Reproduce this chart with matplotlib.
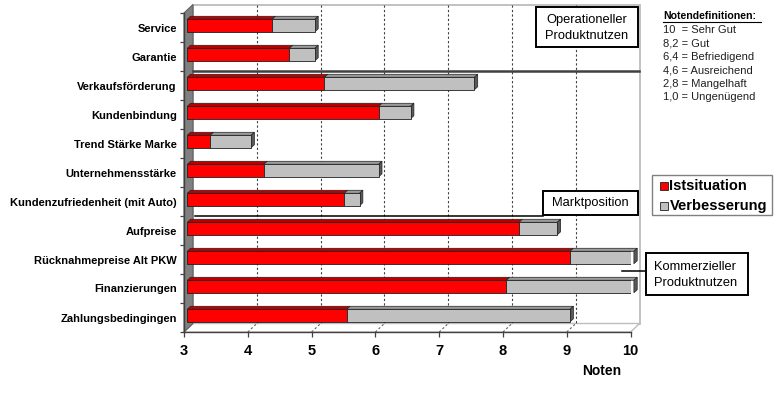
import matplotlib
matplotlib.use("Agg")
import matplotlib.pyplot as plt
from matplotlib.patches import Polygon, Rectangle
from matplotlib.lines import Line2D
from matplotlib.transforms import ScaledTranslation

plt.rcParams['font.family'] = ['Liberation Sans', 'DejaVu Sans']

# ---------------- data ----------------
categories = ["Service", "Garantie", "Verkaufsförderung", "Kundenbindung",
              "Trend Stärke Marke", "Unternehmensstärke",
              "Kundenzufriedenheit (mit Auto)", "Aufpreise",
              "Rücknahmepreise Alt PKW", "Finanzierungen", "Zahlungsbedingingen"]
istsituation = [4.33, 4.6, 5.15, 6.0, 3.36, 4.2, 5.46, 8.2, 9.0, 8.0, 5.5]
verbesserung = [0.67, 0.4, 2.35, 0.5, 0.64, 1.8, 0.24, 0.6, 1.0, 2.0, 3.5]
x_ticks = [3, 4, 5, 6, 7, 8, 9, 10]
x_label = "Noten"
series_labels = ["Istsituation", "Verbesserung"]
noten_title = "Notendefinitionen:"
noten_lines = ["10  = Sehr Gut", "8,2 = Gut", "6,4 = Befriedigend",
               "4,6 = Ausreichend", "2,8 = Mangelhaft", "1,0 = Ungenügend"]
box_operationell = ["Operationeller", "Produktnutzen"]
box_markt = "Marktposition"
box_kommerziell = ["Kommerzieller", "Produktnutzen"]

# ---------------- figure ----------------
W, H = 780, 398
DPI = 100
fig = plt.figure(figsize=(W / DPI, H / DPI), dpi=DPI)
fig.patch.set_facecolor("white")

X0, X1 = 184, 630.6   # front plane x pixels
Y0, Y1 = 13, 332      # front plane top / bottom pixels
ax = fig.add_axes([X0 / W, (H - Y1) / H, (X1 - X0) / W, (Y1 - Y0) / H])
n = len(categories)
xmin, xmax = x_ticks[0], x_ticks[-1]
ax.set_xlim(xmin, xmax)
ax.set_ylim(n - 0.5, -0.5)
ax.patch.set_visible(False)
for s in ax.spines.values():
    s.set_visible(False)

# pixel -> data conversions from the axes scale
ux = ax.transData.transform((xmin + 1, 0))[0] - ax.transData.transform((xmin, 0))[0]
uy = ax.transData.transform((0, 0))[1] - ax.transData.transform((0, 1))[1]
def ddx(p):
    return p / ux
def ddy(p):
    return p / uy   # positive = upward on screen -> subtract from y

ytop, ybot = -0.5, n - 0.5
DX, DY = 9.0, 8.5   # depth of the 3D box in pixels

# back wall
back = Polygon([(xmin + ddx(DX), ytop - ddy(DY)), (xmax + ddx(DX), ytop - ddy(DY)),
                (xmax + ddx(DX), ybot - ddy(DY)), (xmin + ddx(DX), ybot - ddy(DY))],
               closed=True, facecolor="white", edgecolor="#BDBDBD", lw=1.3,
               clip_on=False, zorder=0)
ax.add_patch(back)
# floor
floor = Polygon([(xmin, ybot), (xmax, ybot), (xmax + ddx(DX), ybot - ddy(DY)),
                 (xmin + ddx(DX), ybot - ddy(DY))], closed=True,
                facecolor="white", edgecolor="#BDBDBD", lw=1.0, clip_on=False, zorder=0.5)
ax.add_patch(floor)
# gridlines on back wall and floor
for v in x_ticks[1:-1]:
    ax.add_line(Line2D([v + ddx(DX), v + ddx(DX)], [ytop - ddy(DY), ybot - ddy(DY)],
                       color="#404040", lw=0.8, dashes=(2, 2), clip_on=False, zorder=1))
    ax.add_line(Line2D([v, v + ddx(DX)], [ybot, ybot - ddy(DY)],
                       color="#606060", lw=0.8, dashes=(2, 2), clip_on=False, zorder=1))
# side wall
side = Polygon([(xmin, ytop), (xmin + ddx(DX), ytop - ddy(DY)),
                (xmin + ddx(DX), ybot - ddy(DY)), (xmin, ybot)], closed=True,
               facecolor="#808080", edgecolor="#606060", lw=0.8, clip_on=False, zorder=2)
ax.add_patch(side)
# front axis lines
ax.add_line(Line2D([xmin, xmax], [ybot, ybot], color="#404040", lw=1.0, clip_on=False, zorder=3))
ax.add_line(Line2D([xmin, xmin], [ytop, ybot], color="#404040", lw=1.0, clip_on=False, zorder=3))

# ---------------- bars ----------------
FX, FY = 3.3, 2.0      # front face offset in pixels
BX, BY = 3.3, 3.0      # bar depth in pixels
bar_h = 0.43
off = ax.transData + ScaledTranslation(FX / DPI, FY / DPI, fig.dpi_scale_trans)
ypos = list(range(n))
left_ist = [xmin] * n
b1 = ax.barh(ypos, [v - xmin for v in istsituation], left=left_ist, height=bar_h,
             color="#FF0000", edgecolor="#202020", lw=0.6, transform=off, zorder=5,
             label=series_labels[0])
b2 = ax.barh(ypos, verbesserung, left=istsituation, height=bar_h,
             color="#C0C0C0", edgecolor="#202020", lw=0.6, transform=off, zorder=5,
             label=series_labels[1])

def top_face(x0, x1, y, color):
    yt = y - bar_h / 2
    p = Polygon([(x0, yt), (x1, yt), (x1 + ddx(BX), yt - ddy(BY)), (x0 + ddx(BX), yt - ddy(BY))],
                closed=True, facecolor=color, edgecolor="#202020", lw=0.5,
                transform=off, clip_on=False, zorder=4)
    ax.add_patch(p)

for i in range(n):
    a = istsituation[i]
    b = a + verbesserung[i]
    top_face(xmin, a, i, "#C00000")
    top_face(a, b, i, "#9A9A9A")
    yt, yb = i - bar_h / 2, i + bar_h / 2
    sp = Polygon([(b, yt), (b + ddx(BX), yt - ddy(BY)), (b + ddx(BX), yb - ddy(BY)), (b, yb)],
                 closed=True, facecolor="#5A5A5A", edgecolor="#202020", lw=0.5,
                 transform=off, clip_on=False, zorder=4)
    ax.add_patch(sp)

# ---------------- ticks ----------------
ax.set_yticks(ypos)
ax.set_yticklabels(categories, fontsize=8, fontweight="bold")
ax.tick_params(axis="y", which="major", length=0, pad=5.2)
ax.set_yticks([k - 0.5 for k in range(n + 1)], minor=True)
ax.tick_params(axis="y", which="minor", length=3, width=0.9, color="#404040", direction="out")
ax.set_xticks(x_ticks)
ax.set_xticklabels([str(t) for t in x_ticks], fontsize=10.5, fontweight="bold")
ax.tick_params(axis="x", which="major", length=3.6, width=0.9, color="#404040",
               direction="out", pad=5.0)

# ---------------- annotations (figure pixel coords) ----------------
def fx(p):
    return p / W
def fy(p):
    return 1 - p / H

def fig_line(x0, y0, x1, y1, **kw):
    fig.add_artist(Line2D([fx(x0), fx(x1)], [fy(y0), fy(y1)], transform=fig.transFigure, **kw))

def fig_box(x0, y0, x1, y1, ec="black", lw=1.2):
    fig.add_artist(Rectangle((fx(x0), fy(y1)), fx(x1) - fx(x0), fy(y0) - fy(y1),
                             transform=fig.transFigure, facecolor="white", edgecolor=ec,
                             lw=lw, zorder=10))

# separator lines
ax.add_line(Line2D([xmin + ddx(DX - 0.5), xmax + ddx(DX - 1)], [1.5, 1.5], color="#404040",
                   lw=1.8, clip_on=False, zorder=6))
fig_line(195, 216, 543, 216, color="black", lw=1.1, zorder=6)
fig_line(622, 271, 646, 271, color="black", lw=1.1, zorder=6)

# text boxes
fig_box(536, 7, 638, 47, lw=1.4)
fig.text(fx(587), fy(20.5), box_operationell[0], fontsize=9.3, ha="center", va="center", zorder=11)
fig.text(fx(587), fy(36), box_operationell[1], fontsize=9.3, ha="center", va="center", zorder=11)

fig_box(543, 191, 638, 215, lw=1.4)
fig.text(fx(590.5), fy(203), box_markt, fontsize=9.3, ha="center", va="center", zorder=11)

fig_box(646, 253, 748, 295, lw=1.4)
fig.text(fx(654), fy(267), box_kommerziell[0], fontsize=9.3, ha="left", va="center", zorder=11)
fig.text(fx(654), fy(283), box_kommerziell[1], fontsize=9.3, ha="left", va="center", zorder=11)

# legend
fig_box(652, 175, 772, 215, ec="#808080", lw=1.0)
for k, (lab, col) in enumerate(zip(series_labels, ["#FF0000", "#C0C0C0"])):
    yc = 186 + k * 19.5
    fig.add_artist(Rectangle((fx(660), fy(yc + 4)), fx(667.5) - fx(660), fy(yc - 4) - fy(yc + 4),
                             transform=fig.transFigure, facecolor=col, edgecolor="#202020",
                             lw=0.6, zorder=11))
    fig.text(fx(669.5), fy(yc), lab, fontsize=10.5, fontweight="bold", ha="left",
             va="center", zorder=11)

# Notendefinitionen
fig.text(fx(663), fy(16), noten_title, fontsize=7.6, fontweight="bold", ha="left", va="center")
fig_line(663, 21.8, 761, 21.8, color="black", lw=0.8)
for k, line in enumerate(noten_lines):
    fig.text(fx(663), fy(30 + k * 13.4), line, fontsize=8, ha="left", va="center", color="#202020")

# axis title
fig.text(fx(602), fy(371), x_label, fontsize=10, fontweight="bold", ha="center", va="center")

fig.savefig("out.png", dpi=DPI, facecolor="white")
